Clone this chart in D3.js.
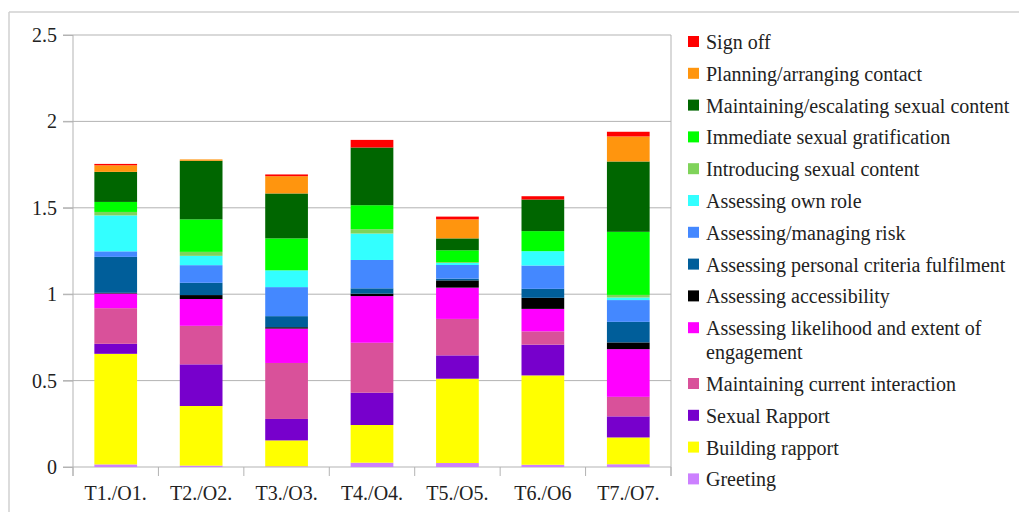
<!DOCTYPE html>
<html>
<head>
<meta charset="utf-8">
<script src="https://cdn.jsdelivr.net/npm/d3@7"></script>
<style>
  body { margin: 0; background: #fff; }
  text { font-family: "Liberation Serif", "DejaVu Serif", serif; fill: #222; }
</style>
</head>
<body>
<svg id="chart" width="1019" height="512"></svg>
<script>
// categories along the x axis
const categories = ["T1./O1.", "T2./O2.", "T3./O3.", "T4./O4.", "T5./O5.", "T6./O6", "T7./O7."];

// stack order bottom -> top
const seriesNames = [
  "Greeting", "Building rapport", "Sexual Rapport", "Maintaining current interaction",
  "Assessing likelihood and extent of engagement", "Assessing accessibility",
  "Assessing personal criteria fulfilment", "Assessing/managing risk", "Assessing own role",
  "Introducing sexual content", "Immediate sexual gratification",
  "Maintaining/escalating sexual content", "Planning/arranging contact", "Sign off"
];
const seriesColors = [
  "#cc80ff", "#ffff00", "#7700cc", "#d9519a", "#ff00ff", "#000000", "#005e9a",
  "#4488ff", "#33ffff", "#7fd35a", "#00ff00", "#006600", "#ff950e", "#ff0000"
];

// values per series, one per category
const greeting      = [0.015, 0.008, 0.004, 0.025, 0.023, 0.013, 0.016];
const buildRapport  = [0.640, 0.345, 0.150, 0.218, 0.488, 0.517, 0.155];
const sexRapport    = [0.058, 0.241, 0.124, 0.187, 0.135, 0.178, 0.122];
const maintCurrent  = [0.206, 0.223, 0.324, 0.289, 0.211, 0.077, 0.113];
const likelihood    = [0.085, 0.155, 0.199, 0.270, 0.181, 0.130, 0.276];
const accessibility = [0.004, 0.023, 0.008, 0.014, 0.042, 0.064, 0.039];
const criteria      = [0.208, 0.071, 0.064, 0.031, 0.010, 0.052, 0.119];
const risk          = [0.032, 0.102, 0.168, 0.164, 0.079, 0.135, 0.126];
const ownRole       = [0.208, 0.054, 0.097, 0.153, 0.012, 0.083, 0.015];
const introducing   = [0.020, 0.023, 0.000, 0.025, 0.005, 0.000, 0.015];
const gratification = [0.058, 0.188, 0.185, 0.139, 0.068, 0.116, 0.365];
const escalating    = [0.174, 0.339, 0.260, 0.334, 0.069, 0.183, 0.407];
const planning      = [0.038, 0.008, 0.100, 0.000, 0.110, 0.000, 0.145];
const signOff       = [0.008, 0.000, 0.010, 0.044, 0.016, 0.019, 0.027];

const seriesValues = [greeting, buildRapport, sexRapport, maintCurrent, likelihood, accessibility,
  criteria, risk, ownRole, introducing, gratification, escalating, planning, signOff];

const yTicks = [0, 0.5, 1, 1.5, 2, 2.5];
const yTickLabels = ["0", "0.5", "1", "1.5", "2", "2.5"];

const svg = d3.select("#chart");
const m = {left: 73, right: 671, top: 35, bottom: 467};

// outer frame (only top and left visible in the picture)
svg.append("line").attr("x1", 9).attr("x2", 1019).attr("y1", 12).attr("y2", 12)
  .attr("stroke", "#d0d0d0").attr("stroke-width", 1.5);
svg.append("line").attr("x1", 9).attr("x2", 9).attr("y1", 12).attr("y2", 512)
  .attr("stroke", "#d0d0d0").attr("stroke-width", 1.5);

const x = d3.scaleBand().domain(categories).range([m.left, m.right]).paddingInner(0).paddingOuter(0);
const y = d3.scaleLinear().domain([0, 2.5]).range([m.bottom, m.top]);

// gridlines
svg.append("g").selectAll("line").data(yTicks).join("line")
  .attr("x1", m.left - 10).attr("x2", m.right)
  .attr("y1", d => y(d)).attr("y2", d => y(d))
  .attr("stroke", "#b3b3b3").attr("stroke-width", 1);

// plot frame right side
svg.append("line").attr("x1", m.right).attr("x2", m.right).attr("y1", m.top).attr("y2", m.bottom + 9)
  .attr("stroke", "#b3b3b3");

// stacked bars
const table = categories.map((c, i) => {
  const row = {cat: c};
  seriesNames.forEach((s, j) => row[s] = seriesValues[j][i]);
  return row;
});
const stack = d3.stack().keys(seriesNames)(table);
const bw = x.bandwidth() * 0.5;

svg.append("g").selectAll("g").data(stack).join("g")
  .attr("fill", (d, i) => seriesColors[i])
  .selectAll("rect").data(d => d).join("rect")
  .attr("x", d => x(d.data.cat) + (x.bandwidth() - bw) / 2)
  .attr("width", bw)
  .attr("y", d => y(d[1]))
  .attr("height", d => y(d[0]) - y(d[1]));

// y axis
const yAxis = svg.append("g").attr("transform", `translate(${m.left},0)`)
  .call(d3.axisLeft(y).tickValues(yTicks).tickFormat((d, i) => yTickLabels[i]).tickSize(10).tickPadding(6));
yAxis.select(".domain").remove();
yAxis.selectAll("line").attr("stroke", "#b3b3b3");
yAxis.selectAll("text").style("font-size", "20px").attr("fill", "#222")
  .style("font-family", '"Liberation Serif", serif');
svg.append("line").attr("x1", m.left).attr("x2", m.left).attr("y1", m.top).attr("y2", m.bottom + 9)
  .attr("stroke", "#b3b3b3");

// x axis ticks at band boundaries
const bounds = categories.map(c => x(c)).concat([m.right]);
svg.append("g").selectAll("line").data(bounds).join("line")
  .attr("x1", d => d).attr("x2", d => d).attr("y1", m.bottom).attr("y2", m.bottom + 9)
  .attr("stroke", "#b3b3b3");
svg.append("g").selectAll("text").data(categories).join("text")
  .attr("x", d => x(d) + x.bandwidth() / 2)
  .attr("y", 500)
  .attr("text-anchor", "middle")
  .style("font-size", "20px")
  .text(d => d);

// legend, top item first
const legendItems = seriesNames.map((s, i) => ({name: s, color: seriesColors[i]})).reverse();
let ly = 42;
const lg = svg.append("g");
legendItems.forEach(it => {
  lg.append("rect").attr("x", 688).attr("y", ly - 6).attr("width", 11).attr("height", 11).attr("fill", it.color);
  if (it.name === "Assessing likelihood and extent of engagement") {
    lg.append("text").attr("x", 706).attr("y", ly + 7).style("font-size", "20px").text("Assessing likelihood and extent of");
    lg.append("text").attr("x", 706).attr("y", ly + 31).style("font-size", "20px").text("engagement");
    ly += 24;
  } else {
    lg.append("text").attr("x", 706).attr("y", ly + 7).style("font-size", "20px").text(it.name);
  }
  ly += 31.8;
});
</script>
</body>
</html>
